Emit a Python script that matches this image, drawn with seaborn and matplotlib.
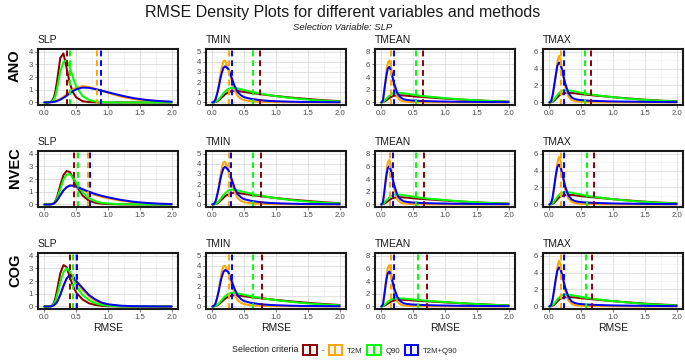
import matplotlib
matplotlib.use("Agg")
import numpy as np
import pandas as pd
import matplotlib.pyplot as plt
import seaborn as sns
from matplotlib.legend_handler import HandlerBase
from matplotlib.patches import Rectangle
from matplotlib.lines import Line2D
from matplotlib.ticker import MultipleLocator

# ---------------- data ----------------
rows = ["ANO", "NVEC", "COG"]
variables = ["SLP", "TMIN", "TMEAN", "TMAX"]
criteria = ["-", "T2M", "Q90", "T2M+Q90"]
criteria_colors = ["#8B0000", "#FFA500", "#00FF00", "#0000FF"]
x_ticks = [0.0, 0.5, 1.0, 1.5, 2.0]
y_max = {"SLP": 4, "TMIN": 5, "TMEAN": 8, "TMAX": 6}
y_step = {"SLP": 1, "TMIN": 1, "TMEAN": 2, "TMAX": 2}

rmse_grid = [0, 0.025, 0.05, 0.075, 0.1, 0.125, 0.15, 0.175, 0.2, 0.25, 0.3, 0.35,
             0.4, 0.45, 0.5, 0.6, 0.7, 0.8, 0.9, 1.0, 1.2, 1.4, 1.6, 1.8, 2.0]

ano_slp = {
    "-":       [0, 0, 0, 0.01, 0.05, 0.15, 0.4, 0.9, 1.7, 3.5, 3.85, 2.7, 1.5, 0.8, 0.4, 0.1, 0.03, 0.01, 0, 0, 0, 0, 0, 0, 0],
    "T2M":     [0, 0, 0, 0.01, 0.02, 0.04, 0.07, 0.1, 0.15, 0.28, 0.45, 0.65, 0.85, 1.02, 1.15, 1.28, 1.22, 1.08, 0.92, 0.76, 0.47, 0.27, 0.14, 0.07, 0.03],
    "Q90":     [0, 0, 0, 0.01, 0.03, 0.1, 0.25, 0.55, 1.1, 2.4, 3.2, 3.3, 2.75, 1.95, 1.25, 0.5, 0.2, 0.08, 0.03, 0.01, 0, 0, 0, 0, 0],
    "T2M+Q90": [0, 0, 0, 0.01, 0.02, 0.03, 0.05, 0.08, 0.12, 0.22, 0.36, 0.53, 0.72, 0.9, 1.03, 1.17, 1.15, 1.05, 0.93, 0.8, 0.55, 0.34, 0.2, 0.11, 0.06],
}
ano_tmin = {
    "-":       [0, 0.01, 0.04, 0.1, 0.2, 0.35, 0.5, 0.65, 0.8, 1.0, 1.12, 1.15, 1.13, 1.08, 1.03, 0.94, 0.86, 0.78, 0.7, 0.63, 0.5, 0.39, 0.29, 0.2, 0.13],
    "T2M":     [0, 0.05, 0.3, 0.9, 1.7, 2.7, 3.5, 4.05, 4.1, 3.3, 2.2, 1.2, 0.6, 0.35, 0.22, 0.12, 0.07, 0.05, 0.04, 0.03, 0.02, 0.01, 0.01, 0, 0],
    "Q90":     [0, 0.01, 0.06, 0.15, 0.3, 0.5, 0.7, 0.9, 1.08, 1.33, 1.45, 1.43, 1.37, 1.3, 1.22, 1.07, 0.94, 0.82, 0.71, 0.62, 0.46, 0.33, 0.23, 0.15, 0.1],
    "T2M+Q90": [0, 0.05, 0.3, 0.85, 1.5, 2.3, 2.95, 3.4, 3.55, 3.3, 2.5, 1.6, 1.0, 0.7, 0.52, 0.36, 0.27, 0.2, 0.15, 0.12, 0.08, 0.05, 0.04, 0.03, 0.02],
}
ano_tmean = {
    "-":       [0, 0.05, 0.15, 0.3, 0.5, 0.68, 0.85, 0.97, 1.05, 1.12, 1.12, 1.1, 1.06, 1.01, 0.96, 0.88, 0.81, 0.75, 0.68, 0.61, 0.49, 0.38, 0.28, 0.2, 0.14],
    "T2M":     [0, 0.3, 2.0, 4.5, 6.2, 6.6, 5.8, 4.0, 2.4, 0.8, 0.3, 0.15, 0.1, 0.08, 0.06, 0.04, 0.03, 0.02, 0.02, 0.01, 0.01, 0, 0, 0, 0],
    "Q90":     [0, 0.1, 0.3, 0.55, 0.8, 1.05, 1.25, 1.4, 1.5, 1.55, 1.5, 1.45, 1.38, 1.3, 1.22, 1.08, 0.97, 0.87, 0.78, 0.68, 0.52, 0.39, 0.28, 0.19, 0.13],
    "T2M+Q90": [0, 0.3, 2.2, 4.0, 5.3, 5.6, 5.0, 4.0, 3.0, 1.5, 0.8, 0.5, 0.4, 0.34, 0.3, 0.25, 0.21, 0.18, 0.16, 0.14, 0.11, 0.09, 0.07, 0.06, 0.05],
}
ano_tmax = {
    "-":       [0, 0.02, 0.08, 0.2, 0.4, 0.6, 0.8, 0.93, 1.02, 1.12, 1.14, 1.12, 1.08, 1.03, 0.98, 0.9, 0.83, 0.76, 0.69, 0.62, 0.5, 0.38, 0.28, 0.2, 0.14],
    "T2M":     [0, 0.1, 0.6, 1.7, 3.0, 4.7, 5.5, 5.1, 3.9, 1.8, 0.7, 0.3, 0.15, 0.1, 0.07, 0.04, 0.03, 0.02, 0.02, 0.01, 0.01, 0, 0, 0, 0],
    "Q90":     [0, 0.04, 0.15, 0.35, 0.6, 0.85, 1.1, 1.26, 1.38, 1.45, 1.42, 1.37, 1.3, 1.22, 1.15, 1.0, 0.9, 0.8, 0.71, 0.62, 0.47, 0.35, 0.25, 0.17, 0.12],
    "T2M+Q90": [0, 0.1, 0.8, 2.0, 3.2, 4.3, 4.7, 4.5, 3.8, 2.2, 1.1, 0.6, 0.4, 0.32, 0.28, 0.22, 0.19, 0.16, 0.14, 0.12, 0.1, 0.08, 0.06, 0.05, 0.04],
}

nvec_slp = {
    "-":       [0, 0, 0, 0, 0.01, 0.03, 0.1, 0.3, 0.6, 1.5, 2.3, 2.63, 2.55, 2.1, 1.5, 0.7, 0.3, 0.13, 0.06, 0.03, 0.01, 0, 0, 0, 0],
    "T2M":     [0, 0, 0, 0, 0.01, 0.03, 0.08, 0.18, 0.3, 0.7, 1.1, 1.38, 1.5, 1.48, 1.4, 1.15, 0.93, 0.74, 0.6, 0.48, 0.3, 0.17, 0.09, 0.05, 0.02],
    "Q90":     [0, 0, 0, 0, 0.01, 0.03, 0.08, 0.25, 0.5, 1.2, 1.95, 2.35, 2.38, 2.1, 1.7, 0.95, 0.5, 0.25, 0.13, 0.07, 0.02, 0.01, 0, 0, 0],
    "T2M+Q90": [0, 0, 0, 0, 0.01, 0.03, 0.08, 0.18, 0.33, 0.72, 1.1, 1.35, 1.48, 1.48, 1.4, 1.2, 1.0, 0.82, 0.68, 0.56, 0.36, 0.21, 0.12, 0.06, 0.03],
}
nvec_tmin = {
    "-":       [0, 0.01, 0.04, 0.1, 0.2, 0.35, 0.5, 0.65, 0.8, 1.0, 1.12, 1.15, 1.13, 1.08, 1.03, 0.94, 0.86, 0.78, 0.7, 0.63, 0.5, 0.39, 0.29, 0.2, 0.13],
    "T2M":     [0, 0.05, 0.3, 0.9, 1.75, 2.8, 3.6, 4.15, 4.2, 3.4, 2.2, 1.2, 0.6, 0.35, 0.22, 0.12, 0.07, 0.05, 0.04, 0.03, 0.02, 0.01, 0.01, 0, 0],
    "Q90":     [0, 0.01, 0.06, 0.15, 0.3, 0.5, 0.72, 0.92, 1.1, 1.35, 1.47, 1.45, 1.38, 1.3, 1.22, 1.07, 0.94, 0.82, 0.71, 0.62, 0.46, 0.33, 0.23, 0.15, 0.1],
    "T2M+Q90": [0, 0.05, 0.3, 0.9, 1.6, 2.45, 3.1, 3.55, 3.7, 3.4, 2.55, 1.6, 1.0, 0.7, 0.52, 0.36, 0.27, 0.2, 0.15, 0.12, 0.08, 0.05, 0.04, 0.03, 0.02],
}
nvec_tmean = {
    "-":       [0, 0.05, 0.15, 0.3, 0.5, 0.68, 0.85, 0.97, 1.05, 1.12, 1.13, 1.11, 1.07, 1.02, 0.97, 0.89, 0.82, 0.75, 0.68, 0.61, 0.49, 0.38, 0.28, 0.2, 0.14],
    "T2M":     [0, 0.3, 2.1, 4.8, 6.6, 7.0, 6.2, 4.3, 2.5, 0.8, 0.3, 0.15, 0.1, 0.08, 0.06, 0.04, 0.03, 0.02, 0.02, 0.01, 0.01, 0, 0, 0, 0],
    "Q90":     [0, 0.1, 0.32, 0.6, 0.85, 1.1, 1.3, 1.45, 1.55, 1.58, 1.52, 1.45, 1.38, 1.3, 1.22, 1.08, 0.97, 0.87, 0.78, 0.68, 0.52, 0.39, 0.28, 0.19, 0.13],
    "T2M+Q90": [0, 0.3, 2.3, 4.3, 5.7, 6.0, 5.3, 4.2, 3.1, 1.5, 0.8, 0.5, 0.4, 0.34, 0.3, 0.25, 0.21, 0.18, 0.16, 0.14, 0.11, 0.09, 0.07, 0.06, 0.05],
}
nvec_tmax = {
    "-":       [0, 0.02, 0.08, 0.2, 0.4, 0.6, 0.8, 0.93, 1.02, 1.12, 1.14, 1.12, 1.08, 1.03, 0.98, 0.9, 0.83, 0.76, 0.69, 0.62, 0.5, 0.38, 0.28, 0.2, 0.14],
    "T2M":     [0, 0.1, 0.6, 1.8, 3.2, 4.9, 5.6, 5.1, 3.8, 1.7, 0.7, 0.3, 0.15, 0.1, 0.07, 0.04, 0.03, 0.02, 0.02, 0.01, 0.01, 0, 0, 0, 0],
    "Q90":     [0, 0.04, 0.15, 0.36, 0.62, 0.88, 1.12, 1.28, 1.4, 1.47, 1.44, 1.38, 1.31, 1.23, 1.16, 1.01, 0.9, 0.8, 0.71, 0.62, 0.47, 0.35, 0.25, 0.17, 0.12],
    "T2M+Q90": [0, 0.1, 0.8, 2.1, 3.4, 4.4, 4.7, 4.4, 3.7, 2.1, 1.05, 0.6, 0.4, 0.32, 0.28, 0.22, 0.19, 0.16, 0.14, 0.12, 0.1, 0.08, 0.06, 0.05, 0.04],
}

cog_slp = {
    "-":       [0, 0, 0, 0, 0.02, 0.08, 0.3, 0.7, 1.3, 2.6, 3.25, 3.1, 2.3, 1.6, 1.1, 0.55, 0.25, 0.12, 0.05, 0.02, 0, 0, 0, 0, 0],
    "T2M":     [0, 0, 0, 0, 0.01, 0.03, 0.1, 0.22, 0.4, 0.95, 1.65, 2.2, 2.4, 2.25, 1.9, 1.3, 0.8, 0.45, 0.25, 0.13, 0.04, 0.01, 0, 0, 0],
    "Q90":     [0, 0, 0, 0, 0.01, 0.05, 0.2, 0.45, 0.9, 1.9, 2.7, 3.0, 2.75, 2.2, 1.6, 0.9, 0.5, 0.25, 0.12, 0.06, 0.01, 0, 0, 0, 0],
    "T2M+Q90": [0, 0, 0, 0, 0.01, 0.03, 0.1, 0.2, 0.35, 0.9, 1.6, 2.2, 2.48, 2.35, 2.0, 1.45, 0.9, 0.55, 0.3, 0.17, 0.06, 0.02, 0.01, 0, 0],
}
cog_tmin = {
    "-":       [0, 0.01, 0.04, 0.1, 0.2, 0.33, 0.48, 0.62, 0.76, 0.96, 1.07, 1.1, 1.09, 1.05, 1.0, 0.92, 0.85, 0.78, 0.71, 0.64, 0.52, 0.41, 0.31, 0.22, 0.15],
    "T2M":     [0, 0.05, 0.3, 0.85, 1.65, 2.65, 3.45, 3.95, 4.0, 3.3, 2.2, 1.2, 0.6, 0.35, 0.22, 0.12, 0.07, 0.05, 0.04, 0.03, 0.02, 0.01, 0.01, 0, 0],
    "Q90":     [0, 0.01, 0.06, 0.14, 0.28, 0.46, 0.65, 0.83, 1.0, 1.23, 1.34, 1.33, 1.28, 1.22, 1.15, 1.02, 0.9, 0.8, 0.7, 0.62, 0.47, 0.35, 0.25, 0.17, 0.11],
    "T2M+Q90": [0, 0.05, 0.3, 0.85, 1.5, 2.3, 2.95, 3.4, 3.58, 3.4, 2.6, 1.7, 1.05, 0.72, 0.53, 0.36, 0.27, 0.2, 0.15, 0.12, 0.08, 0.05, 0.04, 0.03, 0.02],
}
cog_tmean = {
    "-":       [0, 0.04, 0.13, 0.27, 0.44, 0.6, 0.75, 0.86, 0.94, 1.02, 1.05, 1.04, 1.01, 0.98, 0.94, 0.88, 0.82, 0.76, 0.7, 0.64, 0.53, 0.43, 0.33, 0.24, 0.17],
    "T2M":     [0, 0.3, 2.0, 4.4, 6.1, 6.5, 5.7, 3.9, 2.3, 0.8, 0.3, 0.15, 0.1, 0.08, 0.06, 0.04, 0.03, 0.02, 0.02, 0.01, 0.01, 0, 0, 0, 0],
    "Q90":     [0, 0.08, 0.25, 0.48, 0.7, 0.9, 1.07, 1.2, 1.27, 1.3, 1.28, 1.24, 1.2, 1.15, 1.1, 1.0, 0.92, 0.84, 0.77, 0.7, 0.56, 0.43, 0.32, 0.23, 0.16],
    "T2M+Q90": [0, 0.3, 2.1, 3.9, 5.2, 5.5, 4.9, 3.9, 2.9, 1.5, 0.8, 0.5, 0.4, 0.34, 0.3, 0.25, 0.21, 0.18, 0.16, 0.14, 0.11, 0.09, 0.07, 0.06, 0.05],
}
cog_tmax = {
    "-":       [0, 0.02, 0.08, 0.2, 0.38, 0.58, 0.77, 0.9, 0.99, 1.08, 1.1, 1.09, 1.06, 1.02, 0.97, 0.9, 0.83, 0.76, 0.69, 0.62, 0.5, 0.39, 0.29, 0.21, 0.15],
    "T2M":     [0, 0.1, 0.6, 1.7, 3.0, 4.6, 5.4, 5.0, 3.8, 1.8, 0.7, 0.3, 0.15, 0.1, 0.07, 0.04, 0.03, 0.02, 0.02, 0.01, 0.01, 0, 0, 0, 0],
    "Q90":     [0, 0.04, 0.14, 0.33, 0.57, 0.82, 1.05, 1.2, 1.32, 1.4, 1.38, 1.33, 1.27, 1.2, 1.13, 1.0, 0.9, 0.8, 0.71, 0.63, 0.48, 0.36, 0.26, 0.18, 0.12],
    "T2M+Q90": [0, 0.1, 0.8, 2.0, 3.2, 4.2, 4.6, 4.4, 3.7, 2.2, 1.1, 0.6, 0.4, 0.32, 0.28, 0.22, 0.19, 0.16, 0.14, 0.12, 0.1, 0.08, 0.06, 0.05, 0.04],
}

# mean RMSE per criterion, order: -, T2M, Q90, T2M+Q90
means_ano = {"SLP": [0.35, 0.83, 0.41, 0.885], "TMIN": [0.75, 0.265, 0.64, 0.31],
             "TMEAN": [0.66, 0.15, 0.54, 0.20], "TMAX": [0.66, 0.19, 0.56, 0.235]}
means_nvec = {"SLP": [0.46, 0.69, 0.53, 0.71], "TMIN": [0.76, 0.255, 0.635, 0.30],
              "TMEAN": [0.67, 0.14, 0.55, 0.19], "TMAX": [0.70, 0.18, 0.585, 0.23]}
means_cog = {"SLP": [0.41, 0.49, 0.45, 0.52], "TMIN": [0.78, 0.265, 0.645, 0.305],
             "TMEAN": [0.71, 0.15, 0.58, 0.20], "TMAX": [0.67, 0.18, 0.57, 0.23]}

densities = {
    "ANO": {"SLP": ano_slp, "TMIN": ano_tmin, "TMEAN": ano_tmean, "TMAX": ano_tmax},
    "NVEC": {"SLP": nvec_slp, "TMIN": nvec_tmin, "TMEAN": nvec_tmean, "TMAX": nvec_tmax},
    "COG": {"SLP": cog_slp, "TMIN": cog_tmin, "TMEAN": cog_tmean, "TMAX": cog_tmax},
}
means = {"ANO": means_ano, "NVEC": means_nvec, "COG": means_cog}

# ---------------- style ----------------
sns.set_theme(style="white")
plt.rcParams["font.family"] = ["Liberation Sans", "DejaVu Sans"]

W, H = 685, 361
fig = plt.figure(figsize=(W / 100, H / 100), dpi=100)
palette = dict(zip(criteria, criteria_colors))

col_left = [38, 206, 375, 543]
row_top = [49, 151, 253]
pw, ph = 140, 56


def fbox(left, top, w, h):
    return [left / W, 1 - (top + h) / H, w / W, h / H]


for ri, row in enumerate(rows):
    for ci, var in enumerate(variables):
        ax = fig.add_axes(fbox(col_left[ci], row_top[ri], pw, ph))
        dens = densities[row][var]
        df = pd.DataFrame({
            "RMSE": np.tile(rmse_grid, len(criteria)),
            "density": np.concatenate([dens[c] for c in criteria]),
            "criteria": np.repeat(criteria, len(rmse_grid)),
        })
        sns.lineplot(data=df, x="RMSE", y="density", hue="criteria", hue_order=criteria,
                     palette=palette, estimator=None, linewidth=1.45, legend=False, ax=ax,
                     zorder=3)
        for c, m in zip(criteria, means[row][var]):
            ax.axvline(m, color=palette[c], linestyle=(0, (3.0, 2.0)), linewidth=1.4, zorder=4)
        ym = y_max[var]
        ax.set_xlim(-0.1, 2.1)
        ax.set_ylim(-0.05 * ym, 1.05 * ym)
        ax.set_xticks(x_ticks)
        ax.set_xticklabels([f"{t:.1f}" for t in x_ticks])
        ax.xaxis.set_minor_locator(MultipleLocator(0.25))
        ax.yaxis.set_major_locator(MultipleLocator(y_step[var]))
        ax.yaxis.set_minor_locator(MultipleLocator(y_step[var] / 2))
        ax.grid(which="major", color="#DADADA", linewidth=0.6, zorder=0)
        ax.grid(which="minor", color="#EEEEEE", linewidth=0.4, zorder=0)
        ax.set_axisbelow(True)
        ax.tick_params(axis="both", which="major", labelsize=5.6, labelcolor="#4D4D4D",
                       color="#4D4D4D", length=2, width=0.5, pad=1.5, bottom=True, left=True)
        ax.tick_params(which="minor", length=0)
        for sp in ax.spines.values():
            sp.set_color("#1A1A1A")
            sp.set_linewidth(1.5)
            sp.set_zorder(6)
        ax.set_ylabel("")
        if ri == len(rows) - 1:
            ax.set_xlabel("RMSE", fontsize=7.5, color="#1A1A1A", labelpad=1.5)
        else:
            ax.set_xlabel("")
        ax.set_title(var, loc="left", fontsize=7.5, color="#1A1A1A", pad=4)
    # row label
    yc = row_top[ri] + ph / 2 - 11
    fig.text(15 / W, 1 - yc / H, row, rotation=90, ha="center", va="center",
             fontsize=10.5, fontweight="bold", color="black")

fig.text(0.5, 1 - 13 / H, "RMSE Density Plots for different variables and methods",
         ha="center", va="center", fontsize=11.5, color="#1A1A1A")
fig.text(0.5, 1 - 28 / H, "Selection Variable: SLP", ha="center", va="center",
         fontsize=6.8, style="italic", color="#1A1A1A")


class HandlerBoxVline(HandlerBase):
    def create_artists(self, legend, orig_handle, xdescent, ydescent, width, height,
                       fontsize, trans):
        col = orig_handle.get_color()
        rect = Rectangle((-xdescent, -ydescent), width, height, facecolor="#F2F2F2",
                         edgecolor=col, linewidth=1.4, transform=trans)
        ln = Line2D([-xdescent + width / 2] * 2, [-ydescent, -ydescent + height],
                    color=col, linewidth=1.4, transform=trans)
        return [rect, ln]


handles = [Line2D([], [], color=c) for c in criteria_colors]
ly = 1 - 350 / H
fig.text(232 / W, ly, "Selection criteria", ha="left", va="center", fontsize=6.4,
         color="#1A1A1A")
fig.legend(handles, criteria, loc="center left", bbox_to_anchor=(303 / W, ly), ncol=4,
           frameon=False, fontsize=5.6, handler_map={Line2D: HandlerBoxVline()},
           handlelength=1.75, handleheight=1.7, handletextpad=0.6, columnspacing=0.6,
           borderpad=0, borderaxespad=0)

fig.savefig("out.png", dpi=100)
